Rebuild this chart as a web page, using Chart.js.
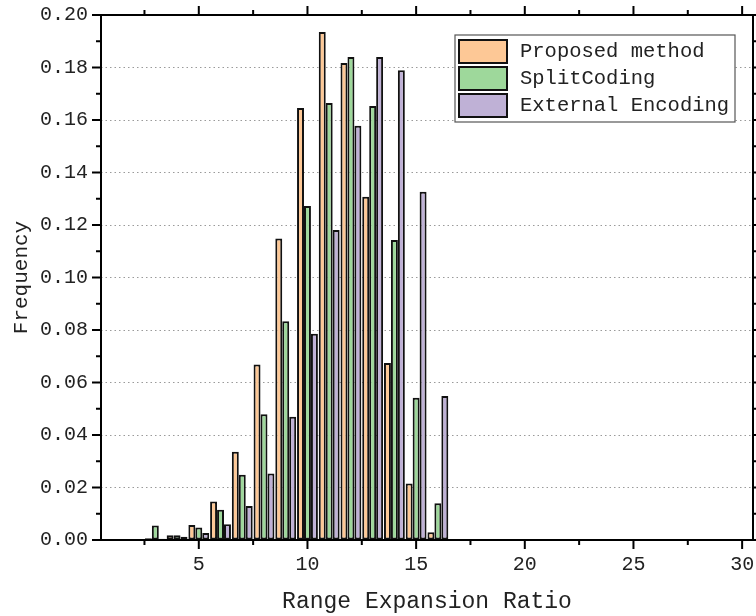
<!DOCTYPE html>
<html>
<head>
<meta charset="utf-8">
<script src="https://cdn.jsdelivr.net/npm/chart.js@4.4.1/dist/chart.umd.min.js"></script>
<style>
  html, body { margin: 0; padding: 0; background: #fff; }
  #wrap { width: 756px; height: 616px; }
</style>
</head>
<body>
<div id="wrap"><canvas id="hist" width="756" height="616"></canvas></div>
<script>
// Range expansion ratio bins (bar centres)
const ratioBins = [2, 3, 4, 5, 6, 7, 8, 9, 10, 11, 12, 13, 14, 15, 16];

const proposedFreq = [0.0003, 0.0007, 0.0018, 0.0057, 0.0147, 0.0336, 0.0669, 0.1149, 0.1646, 0.1935, 0.1817, 0.1308, 0.0674, 0.0215, 0.0030];
const splitCodingFreq = [0.0004, 0.0055, 0.0018, 0.0048, 0.0115, 0.0249, 0.0479, 0.0833, 0.1272, 0.1665, 0.1840, 0.1653, 0.1143, 0.0542, 0.0140];
const externalFreq = [0.0002, 0.0005, 0.0012, 0.0027, 0.0060, 0.0130, 0.0253, 0.0470, 0.0786, 0.1181, 0.1578, 0.1840, 0.1790, 0.1327, 0.0549];

const seriesLabels = ['Proposed method', 'SplitCoding', 'External Encoding'];
const seriesColors = ['#fdc896', '#9ed89b', '#bfb1d6'];

const xMajorTicks = [5, 10, 15, 20, 25, 30];
const xMinorTicks = [2.5, 7.5, 12.5, 17.5, 22.5, 27.5];
const yMajorTicks = [0, 0.02, 0.04, 0.06, 0.08, 0.10, 0.12, 0.14, 0.16, 0.18, 0.20];
const yMinorTicks = [0.01, 0.03, 0.05, 0.07, 0.09, 0.11, 0.13, 0.15, 0.17, 0.19];

const FONT = "'Liberation Mono', 'DejaVu Sans Mono', monospace";
Chart.defaults.font.family = FONT;
Chart.defaults.color = '#222';

function toPoints(values) {
  return ratioBins.map((x, i) => ({ x: x, y: values[i] }));
}

// Box around the plot with outward ticks on all four sides
const framePlugin = {
  id: 'frame',
  afterDraw(chart) {
    const { ctx, chartArea: a, scales } = chart;
    const xs = scales.x, ys = scales.y;
    ctx.save();
    ctx.strokeStyle = '#000';
    ctx.lineWidth = 2;
    ctx.strokeRect(a.left, a.top, a.right - a.left, a.bottom - a.top);

    ctx.beginPath();
    const vTick = (v, len) => {
      const px = xs.getPixelForValue(v);
      ctx.moveTo(px, a.bottom); ctx.lineTo(px, a.bottom + len);
      ctx.moveTo(px, a.top); ctx.lineTo(px, a.top - len);
    };
    const hTick = (v, len) => {
      const py = ys.getPixelForValue(v);
      ctx.moveTo(a.left, py); ctx.lineTo(a.left - len, py);
      ctx.moveTo(a.right, py); ctx.lineTo(a.right + len, py);
    };
    xMajorTicks.forEach(v => vTick(v, 9));
    xMinorTicks.forEach(v => vTick(v, 5));
    yMajorTicks.forEach(v => hTick(v, 9));
    yMinorTicks.forEach(v => hTick(v, 5));
    ctx.stroke();
    ctx.restore();
  }
};

// Legend drawn inside the plot, top right
const boxLegendPlugin = {
  id: 'boxLegend',
  afterDatasetsDraw(chart) {
    const { ctx, chartArea: a } = chart;
    const left = a.right - 298, top = a.top + 20;
    const w = 280, h = 87;
    ctx.save();
    ctx.fillStyle = '#fff';
    ctx.fillRect(left, top, w, h);
    ctx.strokeStyle = '#555';
    ctx.lineWidth = 1.2;
    ctx.strokeRect(left, top, w, h);

    ctx.font = '20.5px ' + FONT;
    ctx.textBaseline = 'middle';
    ctx.textAlign = 'left';
    chart.data.datasets.forEach((ds, i) => {
      const sy = top + 5 + i * 27;
      ctx.fillStyle = ds.backgroundColor;
      ctx.fillRect(left + 4, sy, 48, 23);
      ctx.strokeStyle = '#111';
      ctx.lineWidth = 2;
      ctx.strokeRect(left + 4, sy, 48, 23);
      ctx.fillStyle = '#222';
      ctx.fillText(ds.label, left + 65, sy + 12);
    });
    ctx.restore();
  }
};

const datasets = [proposedFreq, splitCodingFreq, externalFreq].map((vals, i) => ({
  label: seriesLabels[i],
  data: toPoints(vals),
  backgroundColor: seriesColors[i],
  borderColor: '#111',
  borderWidth: 2,
  borderSkipped: false,
  barPercentage: 1,
  categoryPercentage: 0.96
}));

new Chart(document.getElementById('hist'), {
  type: 'bar',
  data: { datasets: datasets },
  options: {
    responsive: false,
    animation: false,
    layout: { padding: { top: 15, right: 3, left: 0, bottom: 0 } },
    plugins: {
      legend: { display: false },
      tooltip: { enabled: false }
    },
    scales: {
      x: {
        type: 'linear',
        offset: false,
        min: 0.5,
        max: 30.5,
        grid: { display: false, drawTicks: false },
        border: { display: false },
        afterBuildTicks(scale) {
          scale.ticks = xMajorTicks.map(v => ({ value: v }));
        },
        afterFit(scale) {
          scale.height = 76;
          scale.paddingLeft = 0;
          scale.paddingRight = 0;
        },
        ticks: {
          padding: 13,
          maxRotation: 0,
          autoSkip: false,
          font: { size: 20 },
          callback: v => String(v)
        },
        title: {
          display: true,
          text: 'Range Expansion Ratio',
          font: { size: 23 },
          padding: { top: 0, bottom: 0 }
        }
      },
      y: {
        min: 0,
        max: 0.2,
        grid: { color: '#9a9a9a', lineWidth: 1, drawTicks: false },
        border: { display: false, dash: [1.5, 3] },
        afterBuildTicks(scale) {
          scale.ticks = yMajorTicks.map(v => ({ value: v }));
        },
        afterFit(scale) {
          scale.width = 101;
          scale.paddingTop = 0;
          scale.paddingBottom = 0;
        },
        ticks: {
          padding: 13,
          font: { size: 20 },
          callback: v => v.toFixed(2)
        },
        title: {
          display: true,
          text: 'Frequency',
          font: { size: 21 },
          padding: { top: 9, bottom: 0 }
        }
      }
    }
  },
  plugins: [boxLegendPlugin, framePlugin]
});
</script>
</body>
</html>
